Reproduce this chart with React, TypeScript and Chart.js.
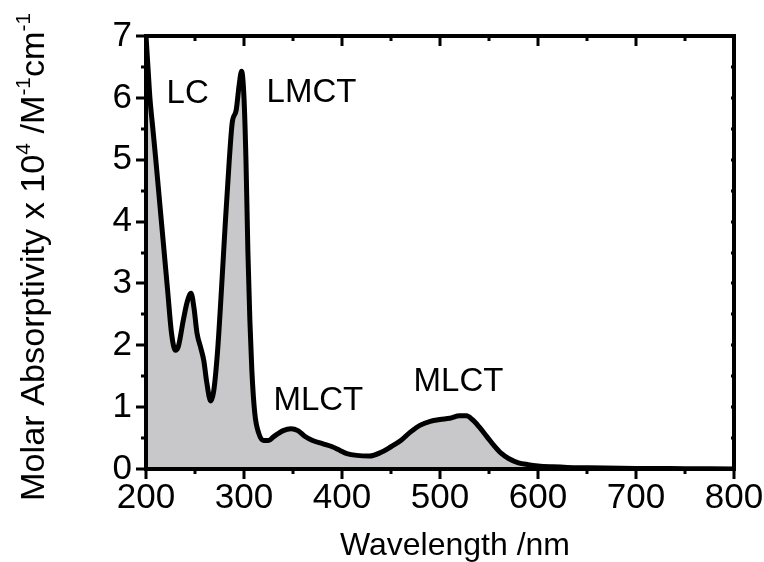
import React, { useEffect, useRef } from "react";
import { Chart, registerables } from "chart.js";

Chart.register(...registerables);

// ---- data ----
const wavelengths = [
  200, 202, 204, 207, 210, 214, 218, 222, 226, 230, 233, 238, 242, 246, 249, 252, 256, 259, 262, 266,
  269, 273, 277, 281, 285, 288, 292, 295, 297.5, 300, 302, 304, 306, 308, 311, 315, 320, 325, 330, 340,
  348, 355, 362, 370, 380, 390, 398, 405, 415, 428, 440, 450, 460, 470, 480, 490, 500, 510, 520, 527,
  533, 540, 548, 555, 562, 570, 580, 590, 600, 615, 630, 650, 700, 750, 800,
];
const absorptivity = [
  7.0, 6.5, 6.0, 5.5, 5.0, 4.3, 3.6, 2.9, 2.2, 1.92, 1.98, 2.4, 2.7, 2.84, 2.6, 2.2, 1.95, 1.75, 1.4, 1.1,
  1.25, 1.9, 2.9, 4.0, 5.0, 5.6, 5.8, 6.2, 6.43, 6.0, 5.0, 3.5, 2.4, 1.6, 0.9, 0.58, 0.46, 0.46, 0.52, 0.62,
  0.65, 0.62, 0.53, 0.46, 0.41, 0.36, 0.3, 0.25, 0.22, 0.21, 0.27, 0.36, 0.46, 0.6, 0.71, 0.77, 0.8, 0.82, 0.86, 0.86,
  0.8, 0.68, 0.52, 0.38, 0.26, 0.17, 0.1, 0.07, 0.05, 0.035, 0.025, 0.02, 0.01, 0.005, 0,
];
const xMin = 200;
const xMax = 800;
const xStep = 100;
const xMinorStep = 50;
const yMin = 0;
const yMax = 7;
const yStep = 1;
const yMinorStep = 0.5;

const bandLabels = ["LC", "LMCT", "MLCT", "MLCT"];
const bandX = [221, 323, 330, 473];
const bandY = [5.91, 5.94, 0.96, 1.256];

const xTitle = "Wavelength /nm";
const yTitleText = ["Molar Absorptivity x 10", "4", " /M", "-1", "cm", "-1"];
const yTitleSuper = [false, true, false, true, false, true];

const FONT = "'Liberation Sans', Arial, Helvetica, sans-serif";

const framePlugin = {
  id: "frame",
  afterDatasetsDraw(chart: any) {
    const { ctx, chartArea, scales } = chart;
    const { left, right, top, bottom } = chartArea;
    const xs = scales.x;
    const ys = scales.y;
    ctx.save();
    ctx.strokeStyle = "#000";
    ctx.lineCap = "butt";

    // ticks
    ctx.lineWidth = 3;
    const eps = 1e-6;
    for (let v = xMin; v <= xMax + eps; v += xMinorStep) {
      const major = Math.abs((v - xMin) % xStep) < eps;
      const px = Math.round(xs.getPixelForValue(v));
      const len = major ? 10 : 5;
      ctx.beginPath();
      ctx.moveTo(px, bottom);
      ctx.lineTo(px, bottom + len);
      ctx.moveTo(px, top);
      ctx.lineTo(px, top + len);
      ctx.stroke();
    }
    for (let v = yMin; v <= yMax + eps; v += yMinorStep) {
      const major = Math.abs((v - yMin) % yStep) < eps;
      const py = Math.round(ys.getPixelForValue(v));
      const len = major ? 10 : 5;
      ctx.beginPath();
      ctx.moveTo(left, py);
      ctx.lineTo(left - len, py);
      ctx.moveTo(right, py);
      ctx.lineTo(right - 3, py);
      ctx.stroke();
    }

    // box
    ctx.lineWidth = 4;
    ctx.lineJoin = "miter";
    ctx.strokeRect(left, top, right - left, bottom - top);

    // band annotations
    ctx.fillStyle = "#000";
    ctx.font = `33px ${FONT}`;
    ctx.textAlign = "left";
    ctx.textBaseline = "alphabetic";
    for (let i = 0; i < bandLabels.length; i++) {
      ctx.fillText(bandLabels[i], xs.getPixelForValue(bandX[i]), ys.getPixelForValue(bandY[i]));
    }

    // x title
    ctx.font = `32px ${FONT}`;
    ctx.textAlign = "center";
    ctx.fillText(xTitle, 455, 555);

    // y title with superscripts
    const normalFont = `33px ${FONT}`;
    const supFont = `20px ${FONT}`;
    let total = 0;
    const widths: number[] = [];
    for (let i = 0; i < yTitleText.length; i++) {
      ctx.font = yTitleSuper[i] ? supFont : normalFont;
      const w = ctx.measureText(yTitleText[i]).width;
      widths.push(w);
      total += w;
    }
    const targetLen = 488;
    const sx = targetLen / total;
    ctx.translate(43.5, 257);
    ctx.rotate(-Math.PI / 2);
    ctx.scale(sx, 1);
    ctx.textAlign = "left";
    let cx = -total / 2;
    for (let i = 0; i < yTitleText.length; i++) {
      ctx.font = yTitleSuper[i] ? supFont : normalFont;
      ctx.fillText(yTitleText[i], cx, yTitleSuper[i] ? -14 : 0);
      cx += widths[i];
    }
    ctx.restore();
  },
};

export default function App() {
  const canvasRef = useRef<HTMLCanvasElement | null>(null);

  useEffect(() => {
    const canvas = canvasRef.current;
    if (!canvas) return;
    const points = wavelengths.map((w, i) => ({ x: w, y: absorptivity[i] }));
    const chart = new Chart(canvas, {
      type: "line",
      data: {
        datasets: [
          {
            data: points,
            borderColor: "#000",
            borderWidth: 5,
            backgroundColor: "#c8c8ca",
            fill: "origin",
            pointRadius: 0,
            cubicInterpolationMode: "monotone",
            borderJoinStyle: "round",
            borderCapStyle: "round",
          },
        ],
      },
      options: {
        animation: false,
        responsive: false,
        maintainAspectRatio: false,
        devicePixelRatio: 1,
        layout: { padding: { top: 36, right: 30, left: 0, bottom: 0 }, autoPadding: false },
        plugins: {
          legend: { display: false },
          tooltip: { enabled: false },
          title: { display: false },
        },
        scales: {
          x: {
            type: "linear",
            min: xMin,
            max: xMax,
            grid: { display: false, drawTicks: false },
            border: { display: false },
            ticks: {
              stepSize: xStep,
              color: "#000",
              padding: 8,
              maxRotation: 0,
              font: { family: FONT, size: 35 },
            },
            afterFit: (s: any) => {
              s.height = 93;
              s.paddingLeft = 0;
              s.paddingRight = 0;
            },
          },
          y: {
            type: "linear",
            min: yMin,
            max: yMax,
            grid: { display: false, drawTicks: false },
            border: { display: false },
            ticks: {
              stepSize: yStep,
              color: "#000",
              padding: 14,
              font: { family: FONT, size: 35 },
            },
            afterFit: (s: any) => {
              s.width = 146;
              s.paddingTop = 0;
              s.paddingBottom = 0;
            },
          },
        },
      },
      plugins: [framePlugin],
    });
    return () => chart.destroy();
  }, []);

  return (
    <div style={{ position: "fixed", left: 0, top: 0, width: 764, height: 562, background: "#fff" }}>
      <canvas ref={canvasRef} width={764} height={562} style={{ width: 764, height: 562, display: "block" }} />
    </div>
  );
}
